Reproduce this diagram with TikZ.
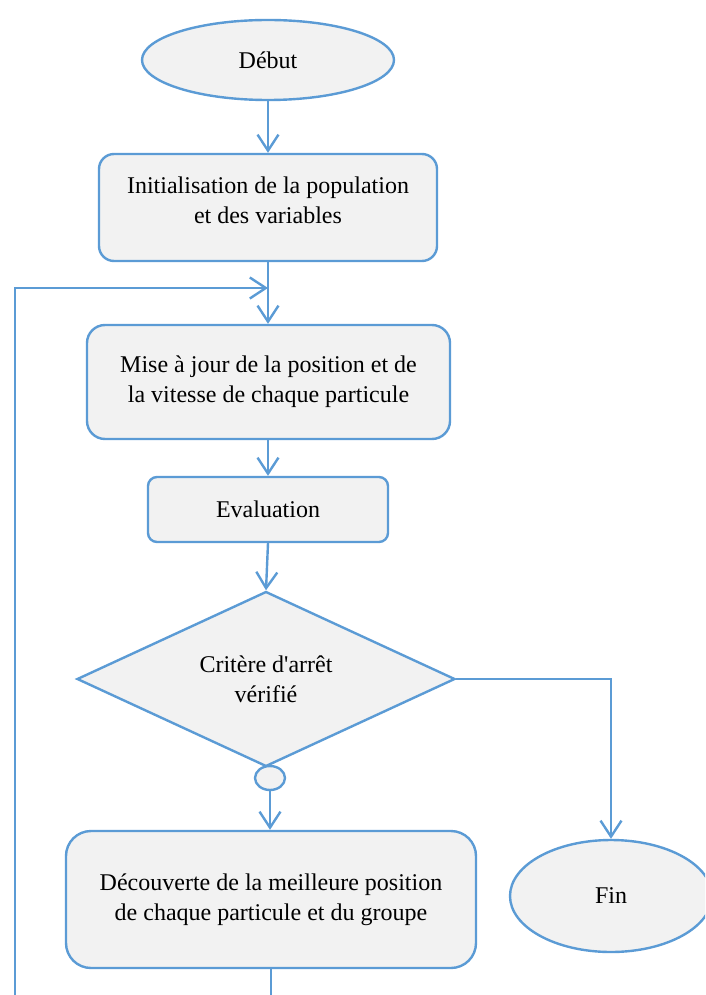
\documentclass[tikz,border=0pt]{standalone}
\usepackage{fontspec}
\setmainfont{Liberation Serif}
\usetikzlibrary{shapes.geometric,arrows.meta}
\definecolor{edgeblue}{RGB}{91,155,213}
\definecolor{boxgray}{RGB}{242,242,242}
\tikzset{
  shapeline/.style={draw=edgeblue, fill=boxgray, line width=2.4pt, inner sep=0pt, align=center},
  procbox/.style={shapeline, rectangle},
  termnode/.style={shapeline, ellipse},
  testnode/.style={shapeline, diamond},
  flow/.style={draw=edgeblue, line width=2.4pt, -{Straight Barb[length=16pt,width=21pt,line width=2.4pt]}}
}
\begin{document}
\begin{tikzpicture}[x=1pt,y=-1pt,font=\fontsize{24}{30}\selectfont]
\useasboundingbox (0,0) rectangle (705,995);
\clip (0,0) rectangle (705,995);

% terminals
\node[termnode, minimum width=252pt, minimum height=80pt] (debut) at (268,60) {Début};
\node[termnode, minimum width=202pt, minimum height=112pt] (fin) at (611,896) {Fin};

% process boxes
\node[procbox, rounded corners=15pt, minimum width=338pt, minimum height=107pt] (init) at (268,207.5) {};
\node[align=center, inner sep=0pt] (inittext) at ([yshift=7pt]init.center) {Initialisation de la population\\et des variables};
\node[procbox, rounded corners=18pt, minimum width=363pt, minimum height=114pt] (mise) at (268.5,382) {Mise à jour de la position et de\\la vitesse de chaque particule};
\node[procbox, rounded corners=9pt, minimum width=240pt, minimum height=65pt] (eval) at (268,509.5) {Evaluation};
\node[testnode, shape aspect=2.16, minimum width=378pt, minimum height=175pt] (crit) at (266,679) {Critère d\textquotesingle arrêt\\vérifié};
\node[termnode, minimum width=30pt, minimum height=24pt] (conn) at (270,778) {};
\node[procbox, rounded corners=25pt, minimum width=410pt, minimum height=137pt] (decouv) at (271,899.5) {Découverte de la meilleure position\\de chaque particule et du groupe};

% loop coordinates
\coordinate (merge) at (268,288);
\coordinate (loopbot) at (15,1010);

% connectors
\draw[flow] (debut.south) -- (init.north);
\draw[flow] (init.south) -- (mise.north -| init.south);
\draw[flow] (mise.south -| eval.north) -- (eval.north);
\draw[flow] (eval.south) -- (crit.north);
\draw[flow] (conn.south) -- (conn.south |- decouv.north);
\draw[flow] (crit.east) -| (fin.north);
\draw[flow] (decouv.south) -- (decouv.south |- loopbot) -- (loopbot) -- (loopbot |- merge) -- (merge);
\end{tikzpicture}
\end{document}
